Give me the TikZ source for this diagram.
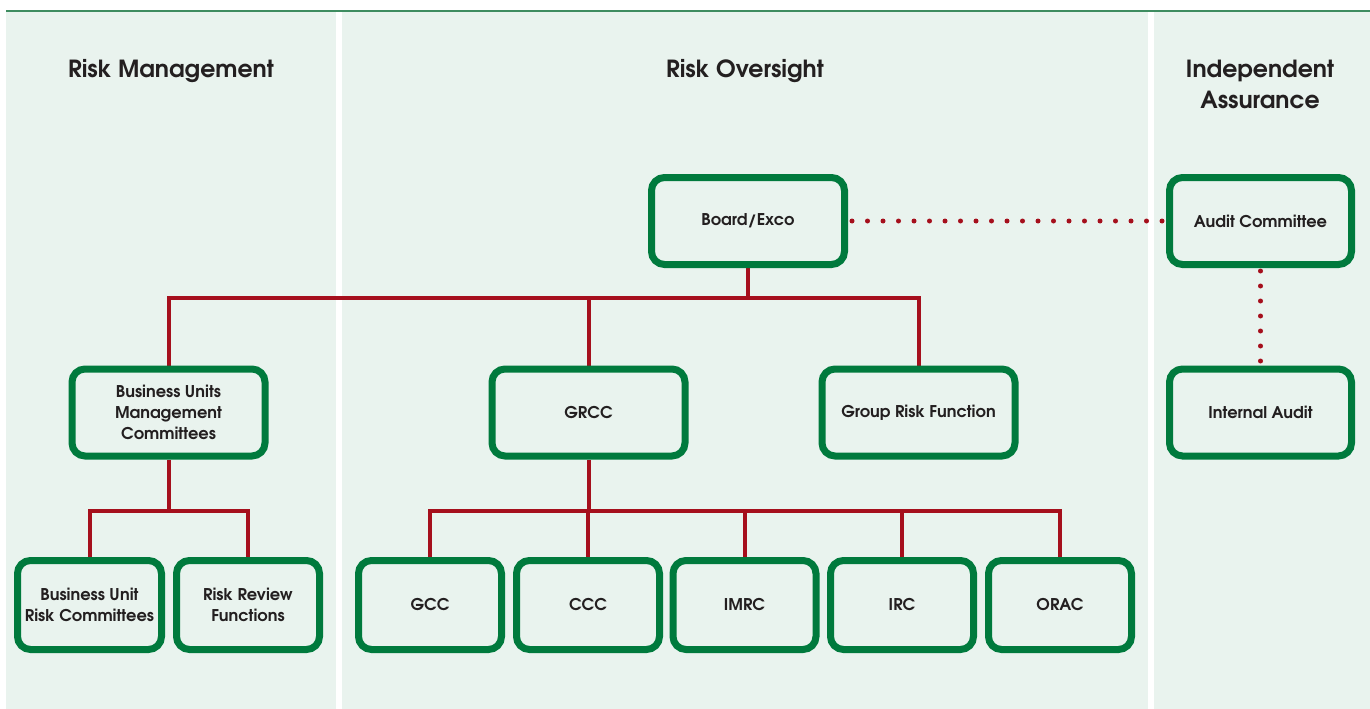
\documentclass[tikz,border=0pt]{standalone}
\usepackage{fontspec}
\setmainfont{TeX Gyre Adventor}
\definecolor{panel}{HTML}{E9F3EE}
\definecolor{boxgreen}{HTML}{007A3D}
\definecolor{linkred}{HTML}{A50F1C}
\definecolor{txt}{HTML}{231F20}
\definecolor{topline}{HTML}{3E8C60}
\pgfdeclarelayer{panels}
\pgfdeclarelayer{links}
\pgfsetlayers{panels,links,main}
\begin{document}
\begin{tikzpicture}[x=1pt,y=-1pt,
  box/.style={draw=boxgreen, line width=7pt, rounded corners=13pt, fill=panel,
    align=center, font=\fontsize{16.2}{21}\selectfont\bfseries, text=txt, inner sep=0pt},
  big/.style={box, minimum width=193pt, minimum height=87pt},
  side/.style={box, minimum width=182pt, minimum height=87pt},
  small/.style={box, minimum width=143pt, minimum height=89pt},
  link/.style={draw=linkred, line width=4pt},
  dots/.style={draw=linkred, line width=5pt, line cap=round, dash pattern=on 0pt off 15.5pt},
  vdots/.style={draw=linkred, line width=5pt, line cap=round, dash pattern=on 0pt off 15pt},
  title/.style={font=\fontsize{23.6}{31}\selectfont\bfseries, text=txt, align=center, inner sep=0pt}]
\useasboundingbox (0,0) rectangle (1370,709);

\begin{pgfonlayer}{panels}
  \fill[white] (0,0) rectangle (1370,709);
  \fill[panel] (6,12) rectangle (336,709);
  \fill[panel] (342,12) rectangle (1148,709);
  \fill[panel] (1154,12) rectangle (1370,709);
  \draw[topline, line width=1.5pt] (6,11) -- (1370,11);
\end{pgfonlayer}

% titles
\node[title, anchor=base] (t1) at (171,77.5) {Risk Management};
\node[title, anchor=base] (t2) at (745,77.5) {Risk Oversight};
\node[title] (t3) at (1260,84.5) {Independent\\Assurance};

% boxes
\node[big] (board) at (748,221) {Board/Exco};
\node[side] (audit) at (1260.5,221) {Audit Committee};
\node[big] (bumc) at (168.5,412.5) {Business Units\\Management\\Committees};
\node[big] (grcc) at (588.5,412.5) {GRCC};
\node[big] (grf) at (918.5,412.5) {Group Risk Function};
\node[side] (ia) at (1260.5,412.5) {Internal Audit};

\node[small, minimum width=144pt] (burc) at (89.5,605) {Business Unit\\Risk Committees};
\node[small] (rrf) at (248,605) {Risk Review\\Functions};
\node[small] (gcc) at (430,605) {GCC};
\node[small] (ccc) at (588,605) {CCC};
\node[small] (imrc) at (744.5,605) {IMRC};
\node[small] (irc) at (902,605) {IRC};
\node[small] (orac) at (1060,605) {ORAC};

\coordinate (bus1) at (748,298);
\coordinate (bus2) at (588,511);
\coordinate (bus3) at (168,511);

\begin{pgfonlayer}{links}
  \draw[link] (board.south) -- (bus1);
  \draw[link] (bumc.north) -- (bumc.north |- bus1) -- (grf.north |- bus1) -- (grf.north);
  \draw[link] (grcc.north) -- (grcc.north |- bus1);
  \draw[link] (grcc.south) -- (grcc.south |- bus2);
  \draw[link] (gcc.north) -- (gcc.north |- bus2) -- (orac.north |- bus2) -- (orac.north);
  \draw[link] (ccc.north) -- (ccc.north |- bus2);
  \draw[link] (imrc.north) -- (imrc.north |- bus2);
  \draw[link] (irc.north) -- (irc.north |- bus2);
  \draw[link] (bumc.south) -- (bumc.south |- bus3);
  \draw[link] (burc.north) -- (burc.north |- bus3) -- (rrf.north |- bus3) -- (rrf.north);
  \draw[dots] ([xshift=4pt]board.east) -- ([xshift=-2.5pt]audit.west);
  \draw[vdots] ([yshift=-3pt]audit.south) -- ([yshift=4.2pt]ia.north);
\end{pgfonlayer}
\end{tikzpicture}
\end{document}
